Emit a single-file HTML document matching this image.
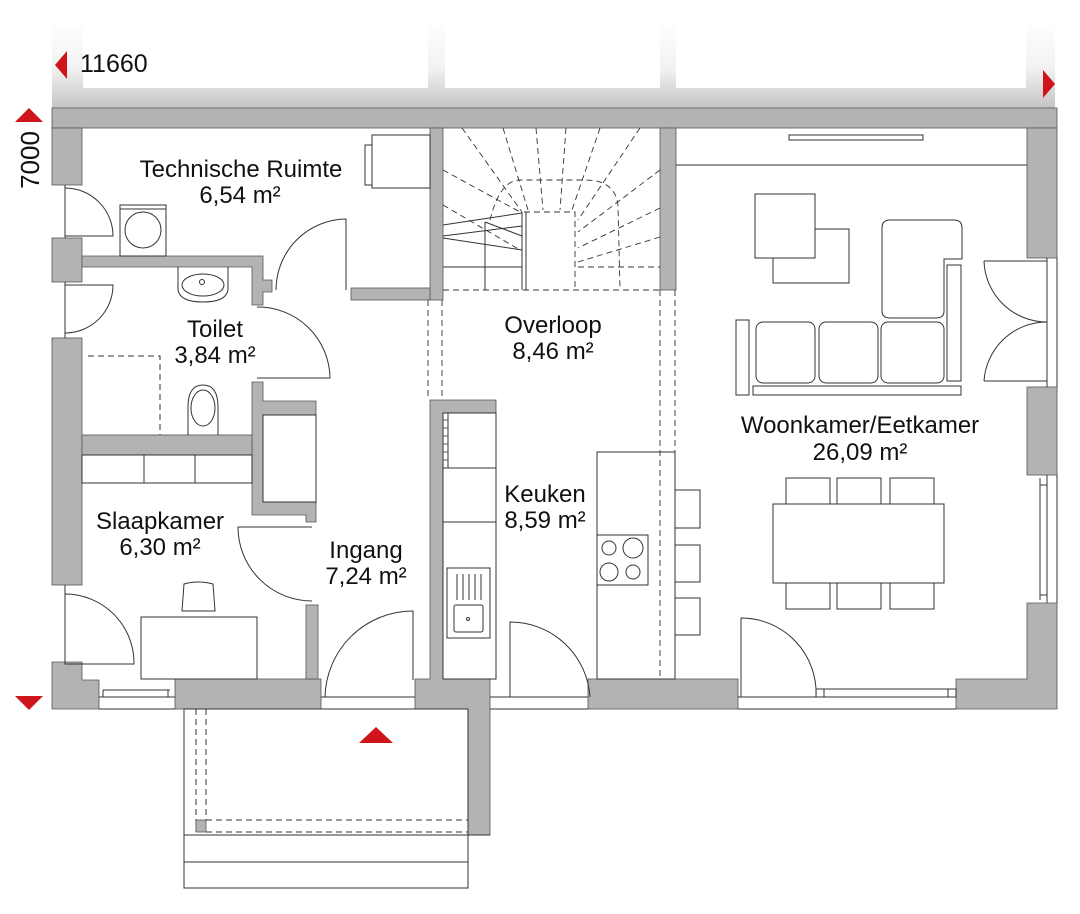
<!DOCTYPE html>
<html><head><meta charset="utf-8"><style>
html,body{margin:0;padding:0;background:#fff}
svg{display:block}
text{font-family:"Liberation Sans",sans-serif;fill:#111}
</style></head><body>
<svg width="1080" height="914" viewBox="0 0 1080 914" xmlns="http://www.w3.org/2000/svg">
<defs>
<linearGradient id="g" x1="0" y1="0" x2="0" y2="1">
<stop offset="0" stop-color="#fff"/><stop offset="0.55" stop-color="#f2f2f2"/><stop offset="1" stop-color="#c4c4c4"/>
</linearGradient>
</defs>
<rect x="52" y="20" width="1003" height="88" fill="url(#g)"/>
<rect x="83" y="20" width="345" height="68" fill="#fff"/>
<rect x="445" y="20" width="215" height="68" fill="#fff"/>
<rect x="676" y="20" width="350" height="68" fill="#fff"/>

<rect x="52" y="108" width="1005" height="601" fill="#fff"/>

<g fill="#b3b3b3" stroke="#555" stroke-width="0.8">
<rect x="52" y="108" width="1005" height="20"/>
<rect x="52" y="128" width="30" height="57"/>
<rect x="52" y="238" width="30" height="44"/>
<rect x="52" y="338" width="30" height="247"/>
<path d="M52 662 H82 V680 H99 V709 H52 Z"/>
<rect x="1027" y="128" width="30" height="130"/>
<rect x="1027" y="387" width="30" height="88"/>
<path d="M1027 603 H1057 V709 H956 V679 H1027 Z"/>
<rect x="175" y="679" width="146" height="30"/>
<path d="M415 679 H430 V400 H496 V413 H443 V679 H490 V709 H490 V835 H468 V709 H415 Z"/>
<rect x="588" y="679" width="150" height="30"/>
<path d="M82 256 H263 V280 H272 V292 H263 V305 H252 V267 H82 Z"/>
<rect x="430" y="128" width="13" height="172"/>
<rect x="351" y="288" width="79" height="12"/>
<rect x="660" y="128" width="16" height="162"/>
<path d="M252 382 H263 V401 H316 V415 H263 V502 H316 V522 H306 V515 H252 Z"/>
<rect x="82" y="435" width="170" height="20"/>
<rect x="306" y="605" width="12" height="74"/>
</g>

<g fill="none" stroke="#333" stroke-width="1">
<line x1="99" y1="697" x2="175" y2="697"/><line x1="99" y1="709" x2="175" y2="709"/>
<line x1="103" y1="690" x2="170" y2="690"/><line x1="103" y1="690" x2="103" y2="697"/><line x1="168" y1="690" x2="168" y2="697"/>
<line x1="321" y1="697" x2="415" y2="697"/><line x1="321" y1="709" x2="415" y2="709"/>
<line x1="490" y1="697" x2="588" y2="697"/><line x1="490" y1="709" x2="588" y2="709"/>
<line x1="738" y1="697" x2="956" y2="697"/><line x1="738" y1="709" x2="956" y2="709"/>
<rect x="816" y="689" width="140" height="8"/><line x1="824" y1="689" x2="824" y2="697"/><line x1="948" y1="689" x2="948" y2="697"/>
<line x1="65" y1="185" x2="65" y2="238"/><line x1="65" y1="282" x2="65" y2="338"/><line x1="65" y1="585" x2="65" y2="662"/>
<line x1="1047" y1="258" x2="1047" y2="387"/><line x1="1057" y1="258" x2="1057" y2="387"/>
<line x1="1047" y1="475" x2="1047" y2="603"/><line x1="1057" y1="475" x2="1057" y2="603"/>
<line x1="1040" y1="478" x2="1040" y2="600"/><line x1="1040" y1="485" x2="1047" y2="485"/><line x1="1040" y1="595" x2="1047" y2="595"/>

<path d="M65 236 H113 A48 48 0 0 0 65 188"/>
<path d="M65 285 H113 A48 48 0 0 1 65 333"/>
<path d="M65 594 V664 H134 A69 69 0 0 0 65 594"/>
<path d="M346 290 V219 A71 71 0 0 0 276 290"/>
<path d="M257 307 A72 72 0 0 1 330 378 H257"/>
<path d="M312 527 H238 A74 74 0 0 0 312 601"/>
<path d="M413 680 V611 A88 88 0 0 0 325 697"/>
<path d="M510 697 V622 A80 80 0 0 1 590 697"/>
<path d="M741 697 V618 A75 75 0 0 1 816 697"/>
<path d="M984 261 H1047 M984 261 A63 63 0 0 0 1047 322"/>
<path d="M984 381 H1047 M984 381 A63 63 0 0 1 1047 322"/>

<rect x="372" y="135" width="58" height="53"/>
<rect x="365" y="145" width="7" height="40"/>
<rect x="120" y="205" width="46" height="51"/><line x1="120" y1="209" x2="166" y2="209"/>
<circle cx="143" cy="230" r="18"/>
<path d="M178 267 V290 Q180 302 203 302 Q226 302 228 290 V267"/>
<ellipse cx="203" cy="285" rx="21" ry="11"/><circle cx="202" cy="282" r="2.5"/>
<path d="M188 435 V407 Q188 385 203 385 Q218 385 218 407 V435"/>
<ellipse cx="203" cy="408" rx="12" ry="18"/>
<path d="M88 356 H160 V435" stroke-dasharray="6 4"/>
<rect x="263" y="415" width="53" height="87"/>
<rect x="82" y="455" width="170" height="28"/><line x1="144" y1="455" x2="144" y2="483"/><line x1="195" y1="455" x2="195" y2="483"/>
<rect x="141" y="617" width="116" height="62"/>
<path d="M182 611 L184 584 Q198 580 213 584 L215 611 Z"/>

<rect x="184" y="709" width="284" height="179"/>
<line x1="184" y1="835" x2="490" y2="835"/><line x1="184" y1="862" x2="468" y2="862"/>
<g stroke-dasharray="6 4"><line x1="196" y1="709" x2="196" y2="832"/><line x1="206" y1="709" x2="206" y2="820"/>
<line x1="206" y1="820" x2="468" y2="820"/><line x1="206" y1="832" x2="468" y2="832"/></g>

<g stroke-dasharray="6 4" stroke-width="0.9">
<line x1="428" y1="300" x2="428" y2="400"/><line x1="442" y1="300" x2="442" y2="400"/>
<line x1="660" y1="290" x2="660" y2="679"/><line x1="675" y1="290" x2="675" y2="452"/>
<path d="M490 220 Q500 180 520 180 H585 Q615 180 618 205 L620 290"/>
<path d="M524 212 H575 V290"/>
<line x1="443" y1="290" x2="660" y2="290"/>
<line x1="462" y1="128" x2="522" y2="212"/><line x1="503" y1="128" x2="528" y2="210"/>
<line x1="536" y1="128" x2="543" y2="210"/><line x1="566" y1="128" x2="560" y2="210"/>
<line x1="600" y1="128" x2="572" y2="210"/><line x1="640" y1="128" x2="578" y2="220"/>
<line x1="660" y1="170" x2="578" y2="232"/><line x1="660" y1="208" x2="578" y2="248"/>
<line x1="660" y1="237" x2="578" y2="262"/><line x1="578" y1="267" x2="660" y2="267"/>
<line x1="443" y1="170" x2="520" y2="212"/><line x1="443" y1="205" x2="520" y2="250"/>
</g>
<line x1="443" y1="225" x2="522" y2="213"/>
<line x1="443" y1="236" x2="522" y2="226"/>
<line x1="485" y1="222" x2="522" y2="236"/>
<line x1="443" y1="238" x2="522" y2="250"/>
<line x1="443" y1="267" x2="522" y2="267"/>
<line x1="485" y1="222" x2="485" y2="290"/>
<line x1="522" y1="212" x2="522" y2="290"/><line x1="526" y1="212" x2="526" y2="290"/>

<rect x="443" y="413" width="53" height="266"/>
<line x1="443" y1="468" x2="496" y2="468"/><line x1="443" y1="522" x2="496" y2="522"/>
<line x1="448" y1="413" x2="448" y2="468"/>
<g stroke-width="0.8"><line x1="443" y1="420" x2="448" y2="420"/><line x1="443" y1="428" x2="448" y2="428"/><line x1="443" y1="436" x2="448" y2="436"/><line x1="443" y1="444" x2="448" y2="444"/><line x1="443" y1="452" x2="448" y2="452"/><line x1="443" y1="460" x2="448" y2="460"/></g>
<rect x="447" y="568" width="43" height="70"/>
<rect x="454" y="605" width="29" height="27" rx="2"/>
<circle cx="468" cy="619" r="1.5"/>
<line x1="457" y1="574" x2="457" y2="600"/><line x1="463" y1="574" x2="463" y2="600"/><line x1="469" y1="574" x2="469" y2="600"/><line x1="475" y1="574" x2="475" y2="600"/><line x1="481" y1="574" x2="481" y2="600"/>
<rect x="597" y="452" width="78" height="227"/>
<rect x="597" y="535" width="51" height="50"/>
<circle cx="609" cy="548" r="7"/><circle cx="633" cy="548" r="10"/><circle cx="609" cy="572" r="9"/><circle cx="633" cy="572" r="7"/>
<rect x="675" y="490" width="25" height="38"/><rect x="675" y="545" width="25" height="37"/><rect x="675" y="598" width="25" height="37"/>

<line x1="676" y1="165" x2="1027" y2="165"/>
<rect x="789" y="135" width="134" height="5"/>
<rect x="773" y="229" width="76" height="54"/>
<rect x="755" y="194" width="60" height="64" fill="#fff"/>
<path d="M882 228 Q882 220 890 220 H954 Q962 220 962 228 V259 H944 V311 Q944 318 936 318 H890 Q882 318 882 311 Z"/>
<rect x="947" y="265" width="14" height="116"/>
<rect x="756" y="322" width="59" height="61" rx="7"/>
<rect x="819" y="322" width="59" height="61" rx="7"/>
<rect x="881" y="322" width="63" height="61" rx="7"/>
<rect x="736" y="320" width="13" height="75"/>
<rect x="753" y="386" width="208" height="9"/>
<rect x="786" y="478" width="44" height="26"/><rect x="837" y="478" width="44" height="26"/><rect x="890" y="478" width="44" height="26"/>
<rect x="786" y="583" width="44" height="26"/><rect x="837" y="583" width="44" height="26"/><rect x="890" y="583" width="44" height="26"/>
<rect x="773" y="504" width="171" height="79"/>
</g>
<rect x="196" y="820" width="10" height="12" fill="#b3b3b3" stroke="#555" stroke-width="0.8"/>

<g fill="#d0141b">
<polygon points="55,65 67,51 67,79"/>
<polygon points="1055,84 1043,70 1043,98"/>
<polygon points="29,108 15,122 43,122"/>
<polygon points="29,710 15,696 43,696"/>
<polygon points="376,727 359,743 393,743"/>
</g>

<text x="80" y="72" font-size="25">11660</text>
<text transform="translate(39,160) rotate(-90)" font-size="26" text-anchor="middle">7000</text>
<g font-size="24" text-anchor="middle">
<text x="241" y="177">Technische Ruimte</text>
<text x="240" y="203">6,54 m²</text>
<text x="215" y="337">Toilet</text>
<text x="215" y="363">3,84 m²</text>
<text x="553" y="333">Overloop</text>
<text x="553" y="359">8,46 m²</text>
<text x="860" y="433">Woonkamer/Eetkamer</text>
<text x="860" y="460">26,09 m²</text>
<text x="545" y="502">Keuken</text>
<text x="545" y="528">8,59 m²</text>
<text x="160" y="529">Slaapkamer</text>
<text x="160" y="555">6,30 m²</text>
<text x="366" y="558">Ingang</text>
<text x="366" y="584">7,24 m²</text>
</g>
</svg>
</body></html>
